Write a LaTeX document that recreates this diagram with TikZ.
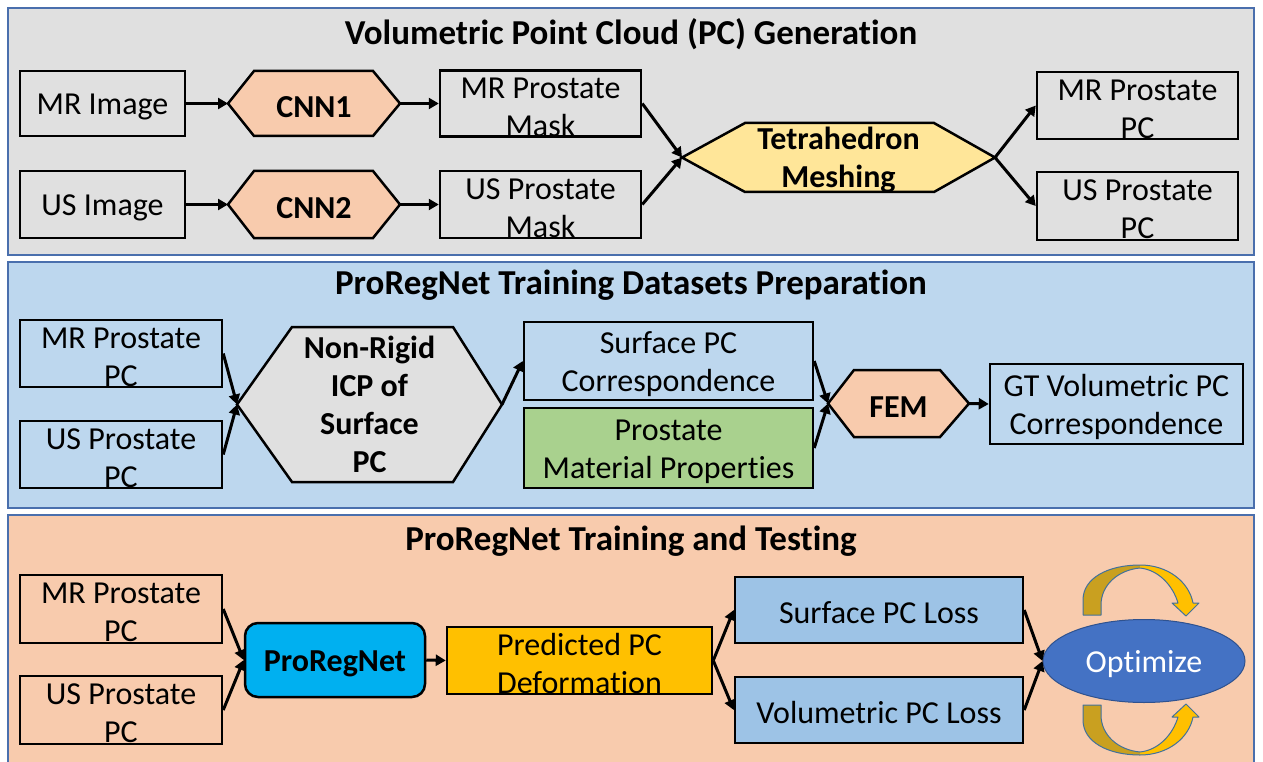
\documentclass[tikz,border=0pt]{standalone}
\usepackage{fontspec}
\setmainfont[Ligatures=NoCommon]{Carlito}
\usetikzlibrary{arrows.meta,shapes.geometric}

\definecolor{panelgray}{HTML}{E0E0E0}
\definecolor{panelblue}{HTML}{BDD7EE}
\definecolor{panelpeach}{HTML}{F8CBAD}
\definecolor{frameblue}{HTML}{4A6FAD}
\definecolor{peach}{HTML}{F8CBAD}
\definecolor{paleyellow}{HTML}{FFE699}
\definecolor{matgreen}{HTML}{A9D18E}
\definecolor{netblue}{HTML}{00B0F0}
\definecolor{gold}{HTML}{FFC000}
\definecolor{darkgold}{HTML}{C9A020}
\definecolor{lossblue}{HTML}{9DC3E6}
\definecolor{optblue}{HTML}{4472C4}
\definecolor{optedge}{HTML}{2F528F}
\definecolor{curlyedge}{HTML}{41719C}

% strut that sets the first text line a little lower in its box
\newcommand\toplift{\rule{0pt}{28pt}}

\tikzset{
  panel/.style={draw=frameblue, line width=1.5pt},
  title/.style={inner sep=0pt, font=\fontsize{35}{42}\selectfont\bfseries},
  box/.style={draw=black, line width=2.5pt, rectangle, inner sep=0pt,
    align=center, font=\fontsize{32}{38}\selectfont, execute at begin node=\toplift},
  hexline/.style={draw=black, line width=2.5pt, line join=miter},
  hextext/.style={inner sep=0pt, align=center, font=\fontsize{32}{38}\selectfont\bfseries,
    execute at begin node=\toplift},
  link/.style={line width=3pt, -{Triangle[length=10pt,width=11pt]}},
  curly/.style={draw=curlyedge, line width=1pt, line join=round},
}

% hexagon: name, fill, left tip x, left flat x, right flat x, right tip x, top y, bottom y, text
\newcommand\hexblock[9]{%
  \draw[hexline, fill=#2] (#3,{(#7+#8)/2}) -- (#4,#7) -- (#5,#7) -- (#6,{(#7+#8)/2})
    -- (#5,#8) -- (#4,#8) -- cycle;
  \coordinate (#1-w) at (#3,{(#7+#8)/2});
  \coordinate (#1-e) at (#6,{(#7+#8)/2});
  \node[hextext] (#1) at ({(#3+#6)/2},{(#7+#8)/2}) {#9};
}

% curved gold arrow above the optimiser (mirrored below)
\newcommand\curlyarrow{%
  \fill[darkgold] (1083,615) -- (1083,600) .. controls (1083,578) and (1108,565) .. (1140,565)
    -- (1140,568) .. controls (1118,570) and (1101,585) .. (1101,605) -- (1101,615) -- cycle;
  \fill[gold] (1140,565) .. controls (1168,565) and (1189,582) .. (1193,603)
    -- (1199,603) -- (1186,616) -- (1172,603) -- (1178,603)
    .. controls (1173,586) and (1159,570) .. (1140,568) -- cycle;
  \draw[curly] (1083,615) -- (1083,600) .. controls (1083,578) and (1108,565) .. (1140,565)
    .. controls (1168,565) and (1189,582) .. (1193,603)
    -- (1199,603) -- (1186,616) -- (1172,603) -- (1178,603)
    .. controls (1173,586) and (1159,570) .. (1140,568)
    .. controls (1118,570) and (1101,585) .. (1101,605) -- (1101,615) -- cycle;
}

\begin{document}
\begin{tikzpicture}[x=1pt,y=-1pt]
\useasboundingbox (0,0) rectangle (1263,762);

% ---------- panels ----------
\draw[panel, fill=panelgray] (8,8) rectangle (1254,255);
\draw[panel, fill=panelblue] (8,262) rectangle (1254,508);
\draw[panel, fill=panelpeach] (8,515) rectangle (1254,775);

\node[title] (t1) at (631,34) {Volumetric Point Cloud (PC) Generation};
\node[title] (t2) at (631,285) {ProRegNet Training Datasets Preparation};
\node[title] (t3) at (631,541) {ProRegNet Training and Testing};

% ---------- volumetric point cloud generation ----------
\node[box, fill=panelgray, minimum width=165pt, minimum height=65pt] (mrimg) at (102.5,103.5) {MR Image};
\node[box, fill=panelgray, minimum width=165pt, minimum height=67pt] (usimg) at (102.5,204.5) {US Image};
\hexblock{cnn1}{peach}{228}{254}{373}{400}{71}{136}{CNN1}
\hexblock{cnn2}{peach}{228}{254}{373}{400}{171}{238}{CNN2}
\node[box, fill=panelgray, minimum width=201pt, minimum height=65pt] (mrmask) at (540.5,103.5) {\toplift MR Prostate\\Mask};
\node[box, fill=panelgray, minimum width=201pt, minimum height=67pt] (usmask) at (540.5,204.5) {\toplift US Prostate\\Mask};
\hexblock{tetra}{paleyellow}{682}{745}{934}{995}{123}{192}{\toplift Tetrahedron\\Meshing}
\node[box, fill=panelgray, minimum width=201pt, minimum height=67pt] (mrpc1) at (1137.5,105.5) {\toplift MR Prostate\\PC};
\node[box, fill=panelgray, minimum width=201pt, minimum height=68pt] (uspc1) at (1137.5,206) {\toplift US Prostate\\PC};

\draw[link] (mrimg.east) -- (cnn1-w);
\draw[link] (usimg.east) -- (cnn2-w);
\draw[link] (cnn1-e) -- (mrmask.west);
\draw[link] (cnn2-e) -- (usmask.west);
\draw[link] (mrmask.east) -- (tetra-w);
\draw[link] (usmask.east) -- (tetra-w);
\draw[link] (tetra-e) -- (mrpc1.west);
\draw[link] (tetra-e) -- (uspc1.west);

% ---------- training dataset preparation ----------
\node[box, fill=panelblue, minimum width=202pt, minimum height=67pt] (mrpc2) at (121,353.5) {\toplift MR Prostate\\PC};
\node[box, fill=panelblue, minimum width=202pt, minimum height=67pt] (uspc2) at (121,454.5) {\toplift US Prostate\\PC};
\hexblock{icp}{panelgray}{237}{292}{453}{502}{327}{482}{Non-Rigid\\ICP of\\Surface\\PC}
\node[box, fill=panelblue, minimum width=289pt, minimum height=78pt] (surf) at (668.5,361) {\toplift Surface PC\\Correspondence};
\node[box, fill=matgreen, minimum width=289pt, minimum height=80pt] (mat) at (668.5,448) {\toplift Prostate\\Material Properties};
\hexblock{fem}{peach}{828}{854}{940}{969}{370}{437}{FEM}
\node[box, fill=panelblue, minimum width=253pt, minimum height=80pt] (gt) at (1116.5,404) {\toplift GT Volumetric PC\\Correspondence};

\draw[link] (mrpc2.east) -- (icp-w);
\draw[link] (uspc2.east) -- (icp-w);
\draw[link] (icp-e) -- (surf.west);
\draw[link] (surf.east) -- (fem-w);
\draw[link] (mat.east) -- (fem-w);
\draw[link] (fem-e) -- (gt.west);

% ---------- training and testing ----------
\node[box, fill=panelpeach, minimum width=202pt, minimum height=68pt] (mrpc3) at (121,609) {\toplift MR Prostate\\PC};
\node[box, fill=panelpeach, minimum width=202pt, minimum height=68pt] (uspc3) at (121,710) {\toplift US Prostate\\PC};
\node[box, fill=netblue, rounded corners=13pt, minimum width=180pt, minimum height=74pt,
      font=\fontsize{32}{38}\selectfont\bfseries] (net) at (335,660) {ProRegNet};
\node[box, fill=gold, minimum width=265pt, minimum height=67pt] (pred) at (579.5,660.5) {\toplift Predicted PC\\Deformation};
\node[box, fill=lossblue, minimum width=288pt, minimum height=66pt] (sloss) at (879,610) {Surface PC Loss};
\node[box, fill=lossblue, minimum width=288pt, minimum height=66pt] (vloss) at (879,710) {Volumetric PC Loss};
\node[ellipse, draw=optedge, line width=1pt, fill=optblue, text=white, inner sep=0pt,
      minimum width=202pt, minimum height=83pt, font=\fontsize{32}{38}\selectfont,
      execute at begin node=\toplift] (opt) at (1144,661) {Optimize};

\draw[link] (mrpc3.east) -- (net.west);
\draw[link] (uspc3.east) -- (net.west);
\draw[link] (net.east) -- (pred.west);
\draw[link] (pred.east) -- (sloss.west);
\draw[link] (pred.east) -- (vloss.west);
\draw[link] (sloss.east) -- (opt.west);
\draw[link] (vloss.east) -- (opt.west);

\curlyarrow
\begin{scope}[shift={(0,1320)}, yscale=-1]
  \curlyarrow
\end{scope}
\end{tikzpicture}
\end{document}
